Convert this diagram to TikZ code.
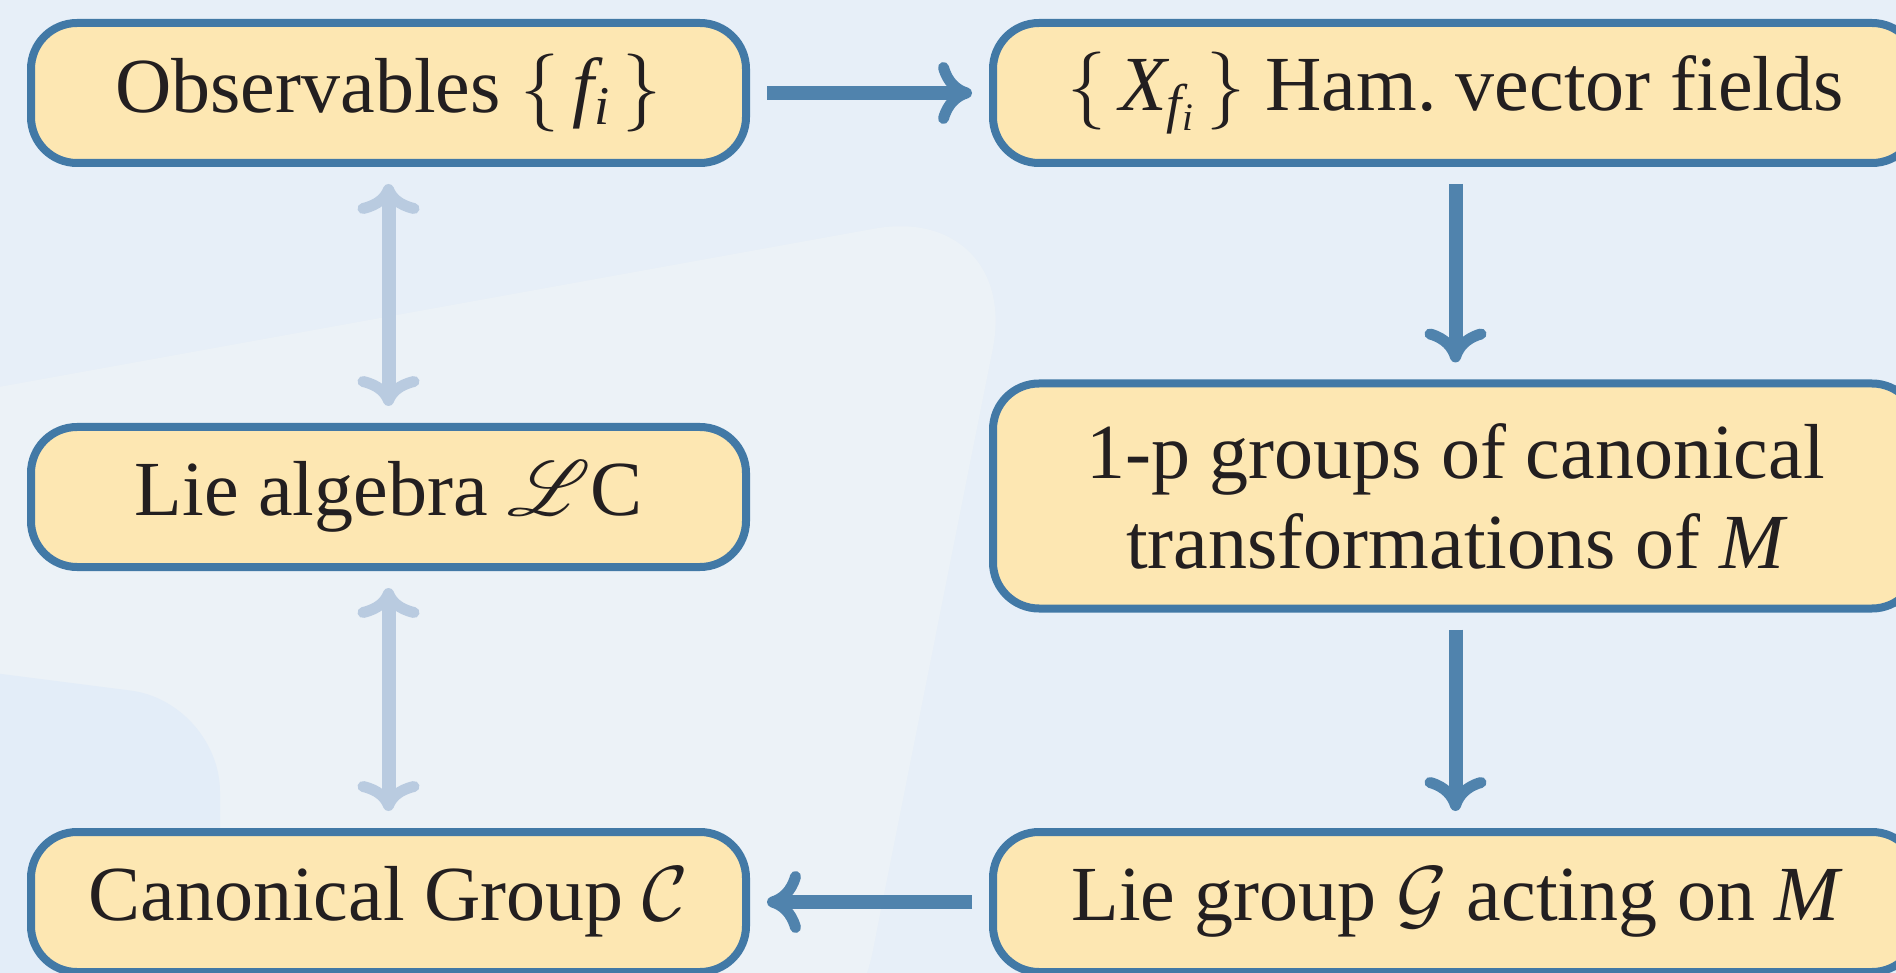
\RequirePackage{fix-cm}
\documentclass[tikz,border=0pt]{standalone}
\DeclareFontFamily{U}{rsfs}{\skewchar\font127 }
\DeclareFontShape{U}{rsfs}{m}{n}{<->rsfs10}{}
\usepackage{mathrsfs}
\usepackage{fontspec}
\setmainfont{Liberation Serif}
\DeclareSymbolFont{letters}{TU}{\rmdefault}{m}{it}
\usetikzlibrary{arrows.meta}
\definecolor{bgbase}{HTML}{E7EFF8}
\definecolor{bglight}{HTML}{ECF2F7}
\definecolor{bgblob}{HTML}{E3EDF8}
\definecolor{boxfill}{HTML}{FDE7B2}
\definecolor{boxline}{HTML}{4279A6}
\definecolor{arrdark}{HTML}{5083AD}
\definecolor{arrlight}{HTML}{B9CBE0}
\definecolor{ink}{HTML}{231F20}
\tikzset{
  stagebox/.style={draw=boxline, fill=boxfill, line width=8pt, rounded corners=46pt,
    text=ink, align=center, inner sep=0pt,
    font=\fontsize{78}{90}\selectfont},
  leftbox/.style={stagebox, minimum width=715pt, minimum height=140pt},
  rightbox/.style={stagebox, minimum width=925pt, minimum height=140pt},
  flow/.style={draw=arrdark, line width=14pt, shorten <=17pt, shorten >=17pt,
    -{Computer Modern Rightarrow[length=34pt,width=62pt,line width=11pt]}},
  link/.style={draw=arrlight, line width=14pt, shorten <=17pt, shorten >=17pt,
    {Computer Modern Rightarrow[length=30pt,width=62pt,line width=11pt]}-{Computer Modern Rightarrow[length=30pt,width=62pt,line width=11pt]}}
}
\begin{document}
\begin{tikzpicture}[x=1pt, y=-1pt]
\useasboundingbox (0,0) rectangle (1896,973);
\clip (0,0) rectangle (1896,973);
% background
\fill[bgbase] (0,0) rectangle (1896,973);
\fill[bglight, rounded corners=150pt] (-200,423) -- (1022,202) -- (843,1100) -- (-200,1100) -- cycle;
\fill[bgblob, rounded corners=90pt] (-100,661) -- (220,702) -- (220,1100) -- (-100,1100) -- cycle;
% boxes
\node[leftbox] (obs) at (388.5,93) {Observables $\{\,f_i\,\}$};
\node[rightbox] (ham) at (1455.5,93) {$\{\,X_{f_i}\,\}$ Ham.\ vector fields};
\node[leftbox] (liealg) at (388.5,497) {Lie algebra $\mathscr{L}$C};
\node[rightbox, minimum height=225pt] (onep) at (1455.5,496) {1-p groups of canonical\\transformations of $M$};
\node[leftbox] (canon) at (388.5,902) {Canonical Group $\mathcal{C}$};
\node[rightbox] (liegrp) at (1455.5,902) {Lie group $\mathcal{G}$ acting on $M$};
% connectors
\draw[flow] (obs.east) -- (ham.west);
\draw[flow] (ham.south) -- (onep.north);
\draw[flow] (onep.south) -- (liegrp.north);
\draw[flow] (liegrp.west) -- (canon.east);
\draw[link] (obs.south) -- (liealg.north);
\draw[link] (liealg.south) -- (canon.north);
\end{tikzpicture}
\end{document}
